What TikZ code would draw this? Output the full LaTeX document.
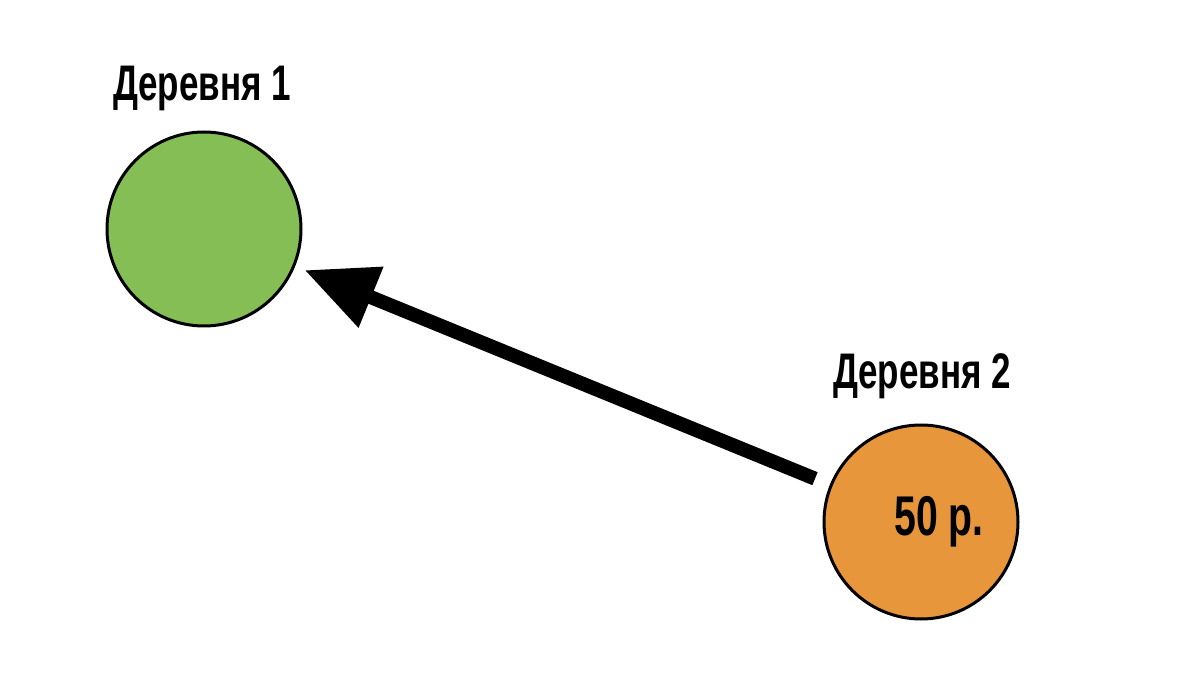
\documentclass[tikz,border=0pt]{standalone}
\usepackage{fontspec}
\setmainfont{Liberation Sans}[FakeStretch=0.7]
\usetikzlibrary{arrows.meta}
\definecolor{gr}{HTML}{84BE55}
\definecolor{og}{HTML}{E8963C}
\begin{document}
\begin{tikzpicture}[x=1pt,y=-1pt,
  vil/.style={circle,draw=black,line width=3pt,minimum size=194pt,inner sep=0pt},
  lab/.style={font=\fontsize{50}{50}\selectfont\bfseries}]
\useasboundingbox[fill=white] (0,0) rectangle (1200,676);
\node[vil,fill=gr] (c1) at (204,229) {};
\node[vil,fill=og] (c2) at (921,522) {};
\node[lab] (l1) at (202,88) {Деревня 1};
\node[lab] (l2) at (922,376) {Деревня 2};
\node[lab,font=\fontsize{56}{56}\selectfont\bfseries] (p) at (939,522) {50 р.};
\draw[line width=14pt,-{Triangle[length=72pt,width=62pt]},shorten <=16pt,shorten >=10pt] (c2) -- (c1);
\end{tikzpicture}
\end{document}
